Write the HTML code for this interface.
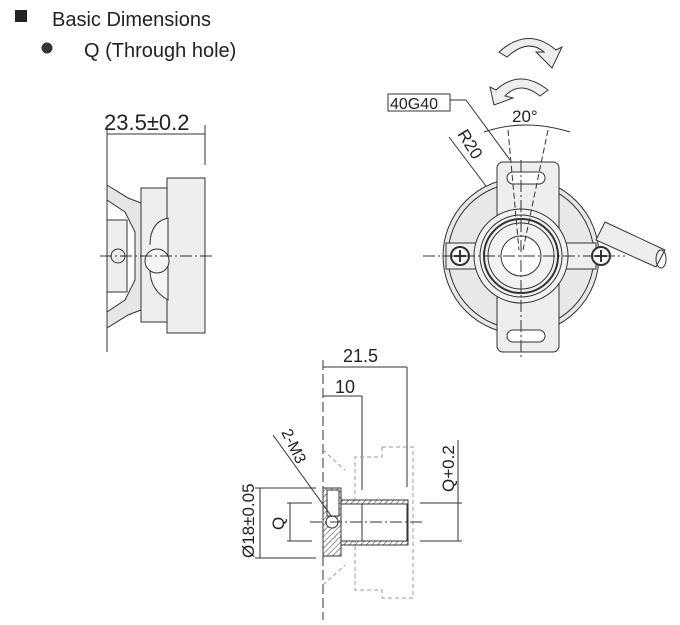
<!DOCTYPE html>
<html><head><style>body{margin:0;background:#fff}svg{display:block}</style></head><body>
<svg width="680" height="625" viewBox="0 0 680 625" xmlns="http://www.w3.org/2000/svg" font-family="Liberation Sans, sans-serif">
<defs>
<pattern id="h" width="4" height="4" patternUnits="userSpaceOnUse" patternTransform="rotate(45)"><line x1="0" y1="0" x2="0" y2="4" stroke="#333" stroke-width="1"/></pattern>
</defs>
<rect x="15" y="10" width="12" height="12" fill="#222"/>
<text x="52" y="26" font-size="20" fill="#222">Basic Dimensions</text>
<circle cx="47" cy="48" r="5.5" fill="#333"/>
<text x="84" y="57" font-size="20" fill="#222">Q (Through hole)</text>

<g stroke="#333" fill="none" stroke-width="1">
<!-- left view -->
<text x="104" y="130" font-size="22" fill="#222" stroke="none">23.5±0.2</text>
<line x1="107" y1="134" x2="205" y2="134"/>
<line x1="107" y1="125" x2="107" y2="352"/>
<line x1="205" y1="125" x2="205" y2="165"/>
<path d="M167 178 H205 V333 H167 Z" fill="#eee"/>
<path d="M141 188 H167 V322 H141 Z" fill="#eee"/>
<path d="M107 185 L128 198 L141 203 V310 L128 315 L107 328 V312 L125 300 L135 280 L135 232 L125 212 L107 200 Z" fill="#e6e6e6"/>
<rect x="107" y="220" width="20" height="72" fill="#eee"/>
<path d="M150 245 Q150 222 168 218 V300 Q150 290 150 270" fill="#f4f4f4"/>
<circle cx="118" cy="256" r="7"/>
<circle cx="157" cy="261" r="12" fill="#f4f4f4"/>
<line x1="100" y1="256" x2="215" y2="256" stroke-dasharray="12 3 2 3"/>

<!-- right view -->
<path d="M499 52 Q528 26 556 50 L562 47 L552 68 L536 52 L544 52 Q528 38 507 57 Z" fill="#eee"/>
<path d="M548 90 Q520 68 496 90 L490 87 L494 105 L513 98 L505 96 Q520 80 540 96 Z" fill="#eee"/>
<rect x="388" y="94" width="62" height="17" fill="#fff"/>
<text x="390" y="109" font-size="16" fill="#222" stroke="none">40G40</text>
<line x1="450" y1="100" x2="466" y2="100"/>
<line x1="466" y1="100" x2="510" y2="160"/>
<text x="512" y="122" font-size="17" fill="#222" stroke="none">20°</text>
<path d="M484 132 Q525 118 570 132"/>
<line x1="449" y1="137" x2="486" y2="186"/>
<text x="0" y="0" font-size="17" fill="#222" stroke="none" transform="translate(457,134) rotate(58)">R20</text>
<circle cx="521" cy="256" r="78" fill="#e8e8e8"/>
<circle cx="521" cy="256" r="73"/>
<rect x="497" y="162" width="62" height="190" rx="6" fill="#eee"/>
<rect x="446" y="243" width="150" height="26" fill="#eee"/>
<path d="M605 222 L665 250 L656 267 L596 240 Z" fill="#eee"/>
<ellipse cx="661" cy="259" rx="5" ry="9"/>
<rect x="507" y="172" width="38" height="12" rx="6" fill="#fff"/>
<rect x="507" y="330" width="38" height="12" rx="6" fill="#fff"/>
<circle cx="521" cy="256" r="47" fill="#f2f2f2"/>
<circle cx="521" cy="256" r="41"/>
<circle cx="521" cy="256" r="37" stroke-width="2"/>
<circle cx="521" cy="256" r="33"/>
<circle cx="521" cy="256" r="20" fill="#fff"/>
<circle cx="460" cy="256" r="9" fill="#fff" stroke-width="2"/>
<path d="M454 256 H466 M460 250 V262" stroke-width="2"/>
<circle cx="601" cy="256" r="9" fill="#fff" stroke-width="2"/>
<path d="M595 256 H607 M601 250 V262" stroke-width="2"/>
<line x1="423" y1="256" x2="625" y2="256" stroke-dasharray="12 3 2 3"/>
<line x1="521" y1="160" x2="521" y2="360" stroke-dasharray="12 3 2 3"/>
<line x1="508" y1="130" x2="519" y2="250" stroke-dasharray="6 3"/>
<line x1="548" y1="130" x2="523" y2="250" stroke-dasharray="6 3"/>

<!-- bottom view -->
<text x="343" y="362" font-size="18" fill="#222" stroke="none">21.5</text>
<line x1="323" y1="367" x2="407" y2="367"/>
<text x="335" y="393" font-size="18" fill="#222" stroke="none">10</text>
<line x1="323" y1="396" x2="362" y2="396"/>
<line x1="323" y1="360" x2="323" y2="620" stroke-dasharray="10 4"/>
<line x1="362" y1="396" x2="362" y2="490"/>
<line x1="407" y1="367" x2="407" y2="487"/>
<g stroke="#999" stroke-dasharray="4 3">
<path d="M382 447 H413 V598 H382"/>
<path d="M382 447 V457 H355 V590 H382 V598"/>
<path d="M323 450 L345 470 M323 585 L345 565"/>
</g>
<rect x="323" y="488" width="18" height="68" fill="url(#h)"/>
<rect x="327" y="490" width="12" height="26" fill="#fff"/>
<path d="M341 500 H408 V545 H341" fill="url(#h)"/>
<rect x="341" y="504" width="66" height="37" fill="#fff"/>
<line x1="362" y1="504" x2="362" y2="541"/>
<circle cx="332" cy="522" r="6" fill="#fff"/>
<line x1="310" y1="522" x2="425" y2="522" stroke-dasharray="12 3 2 3"/>
<line x1="273" y1="435" x2="332" y2="517"/>
<text x="0" y="0" font-size="16" fill="#222" stroke="none" transform="translate(281,432) rotate(64)">2-M3</text>
<line x1="255" y1="488" x2="316" y2="488"/>
<line x1="255" y1="558" x2="316" y2="558"/>
<line x1="260" y1="488" x2="260" y2="558"/>
<text x="0" y="0" font-size="17" fill="#222" stroke="none" transform="translate(254,558) rotate(-90)">Ø18±0.05</text>
<line x1="287" y1="503" x2="312" y2="503"/>
<line x1="287" y1="541" x2="312" y2="541"/>
<line x1="290" y1="503" x2="290" y2="541"/>
<text x="0" y="0" font-size="17" fill="#222" stroke="none" transform="translate(284,530) rotate(-90)">Q</text>
<line x1="420" y1="503" x2="462" y2="503"/>
<line x1="420" y1="541" x2="462" y2="541"/>
<line x1="458" y1="440" x2="458" y2="541"/>
<text x="0" y="0" font-size="17" fill="#222" stroke="none" transform="translate(454,492) rotate(-90)">Q+0.2</text>
</g>
</svg>
</body></html>
